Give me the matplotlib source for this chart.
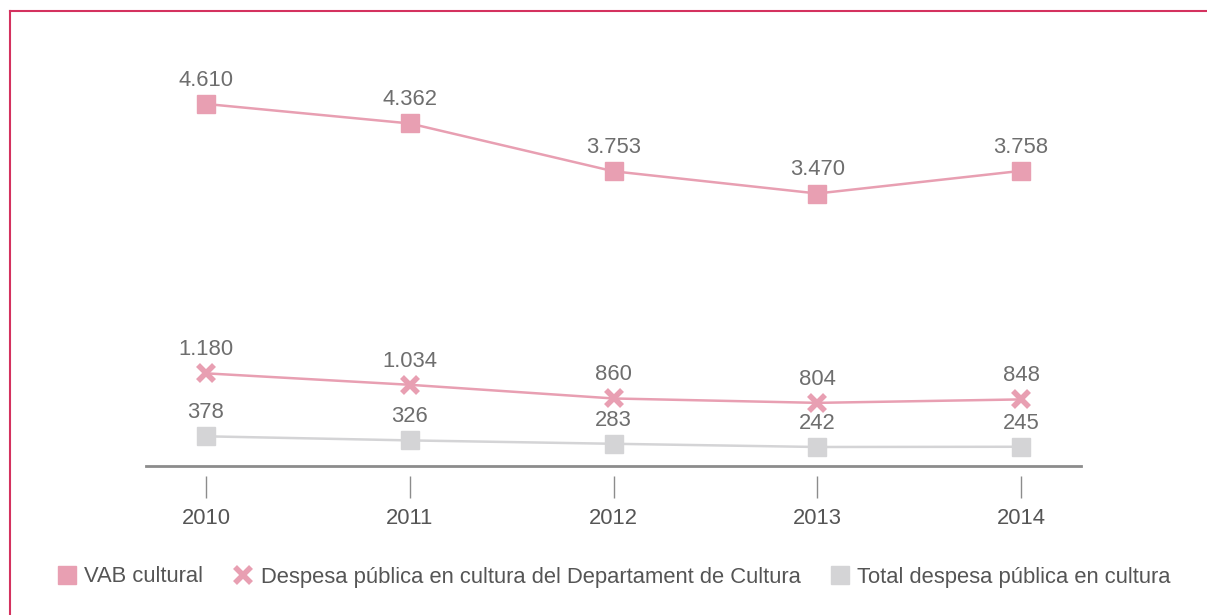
import matplotlib.pyplot as plt
from matplotlib.lines import Line2D

plt.rcParams['font.family'] = ['Liberation Sans', 'DejaVu Sans']

years = [2010, 2011, 2012, 2013, 2014]
vab = [4610, 4362, 3753, 3470, 3758]
despesa_dep = [1180, 1034, 860, 804, 848]
despesa_total = [378, 326, 283, 242, 245]
vab_labels = ["4.610", "4.362", "3.753", "3.470", "3.758"]
dep_labels = ["1.180", "1.034", "860", "804", "848"]
total_labels = ["378", "326", "283", "242", "245"]

pink = "#e89fb2"
grey = "#d4d4d6"
txt = "#6e6e6e"
fs = 15.8

fig = plt.figure(figsize=(12.07, 6.15), dpi=100)
ax = fig.add_axes([146/1207, 149/615, 935/1207, 406/615])

ax.plot(years, vab, color=pink, lw=1.8, marker='s', ms=13, mec=pink, mfc=pink, zorder=3)
ax.plot(years, despesa_dep, color=pink, lw=1.8, marker='x', ms=12, mew=4, mec=pink, zorder=3)
ax.plot(years, despesa_total, color=grey, lw=1.8, marker='s', ms=13, mec=grey, mfc=grey, zorder=3)

for vals, labs in [(vab, vab_labels), (despesa_dep, dep_labels), (despesa_total, total_labels)]:
    for x, v, l in zip(years, vals, labs):
        ax.annotate(l, (x, v), xytext=(0, 17), textcoords='offset points',
                    ha='center', va='center', fontsize=fs, color=txt)

ax.set_xlim(2010 - 60/203.75, 2014 + 60/203.75)
ax.set_ylim(0, 406/0.07853)

for s in ['top', 'right', 'left']:
    ax.spines[s].set_visible(False)
ax.spines['bottom'].set_position(('outward', 7.2))
ax.spines['bottom'].set_visible(False)
ax.axhline(0, color='#8c8c8c', lw=2, clip_on=False, zorder=2)
ax.set_yticks([])
ax.set_xticks(years)
ax.set_xticklabels([str(y) for y in years])
ax.tick_params(axis='x', length=15.8, width=1, color='#8c8c8c', pad=7,
               labelsize=fs, labelcolor='#555555')

handles = [
    Line2D([], [], ls='none', marker='s', ms=13, color=pink),
    Line2D([], [], ls='none', marker='x', ms=12, mew=4, color=pink),
    Line2D([], [], ls='none', marker='s', ms=13, color=grey),
]
names = ["VAB cultural", "Despesa pública en cultura del Departament de Cultura",
         "Total despesa pública en cultura"]
leg = fig.legend(handles, names, loc='center', bbox_to_anchor=(614/1207, 1 - 577/615),
                 ncol=3, frameon=False, fontsize=fs, handlelength=0.9,
                 handletextpad=0.35, columnspacing=1.35)
for t in leg.get_texts():
    t.set_color('#555555')

# border
fig.add_artist(Line2D([10/1207, 1], [1 - 11/615, 1 - 11/615], color='#d4325f', lw=1.5,
                      transform=fig.transFigure))
fig.add_artist(Line2D([10/1207, 10/1207], [0, 1 - 11/615], color='#d4325f', lw=1.5,
                      transform=fig.transFigure))

fig.savefig("out.png", dpi=100)
